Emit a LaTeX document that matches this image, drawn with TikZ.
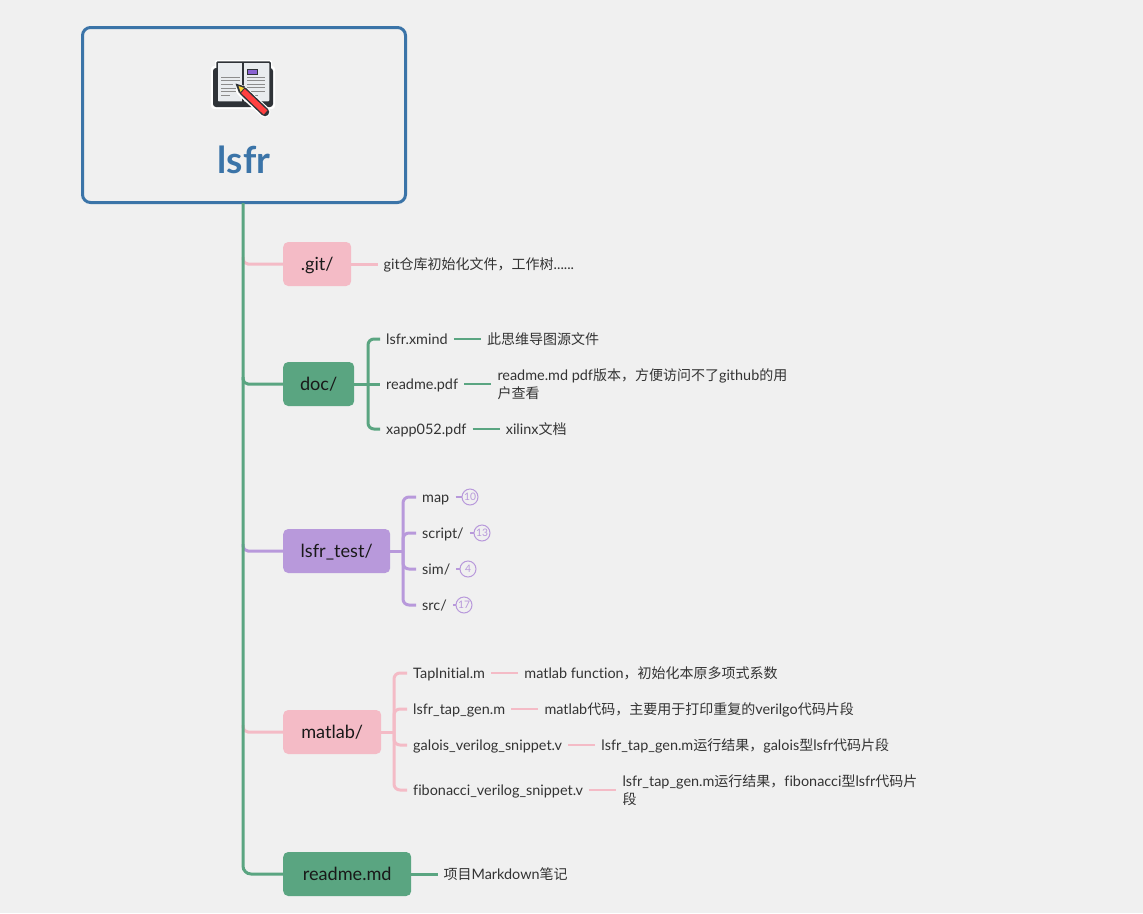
\documentclass[tikz,border=0pt]{standalone}
\usepackage{fontspec}
\setmainfont[Scale=1.03,Ligatures=NoCommon]{Lato}
\newfontfamily\cjk{Noto Sans CJK SC}
\newcommand{\zhcomma}{^^^^ff0c}
\usetikzlibrary{positioning}
\definecolor{bgcol}{HTML}{F0F0F0}
\definecolor{rootblue}{HTML}{3B74A8}
\definecolor{mygreen}{HTML}{5AA581}
\definecolor{mypink}{HTML}{F4BBC6}
\definecolor{mypurple}{HTML}{B899DB}
\definecolor{inkdark}{HTML}{2F3338}
\definecolor{tagcol}{HTML}{8A63D2}
\definecolor{pagecol}{HTML}{E9ECEF}
\tikzset{
  topic/.style={rectangle, rounded corners=5pt, anchor=west, minimum height=44pt, font=\fontsize{17.6}{20}\selectfont, text=black!90, text height=15pt, text depth=3pt},
  leaf/.style={anchor=west, inner xsep=6pt, inner ysep=0pt, font=\fontsize{14}{18}\selectfont, text=black!80, text height=13pt, text depth=3pt},
  descn/.style={leaf, right=27pt of #1},
  descm/.style={anchor=west, inner xsep=6pt, inner ysep=0pt, align=left, font=\fontsize{14}{18}\selectfont, text=black!80, right=27pt of #1},
  trunkline/.style={line width=3pt, mygreen},
  subline/.style={line width=3pt, rounded corners=6pt},
  tipline/.style={line width=2pt},
  countnum/.style={circle, draw=mypurple, text=mypurple, line width=1pt, minimum size=16pt, inner sep=0pt, font=\fontsize{10}{10}\selectfont}
}
\begin{document}
\begin{tikzpicture}[x=1pt,y=-1pt]
\useasboundingbox[fill=bgcol] (0,0) rectangle (1143,913);
% root
\node[draw=rootblue, line width=3pt, rounded corners=8pt, minimum width=323pt, minimum height=175pt] (root) at (244,115) {};
\node[rootblue, font=\fontsize{36}{40}\selectfont\bfseries] (title) at (244,160) {lsfr};
% book icon
\fill[white, rounded corners=3pt] (211,66) rectangle (275,109);
\fill[white, rounded corners=2pt] (215,60) rectangle (272,104);
\fill[inkdark, rounded corners=3pt] (213,68) rectangle (273,107);
\draw[inkdark, fill=pagecol, line width=1.5pt, rounded corners=1pt] (217,62) rectangle (270,102);
\draw[inkdark, line width=1.5pt] (243,62) -- (243,102);
\draw[inkdark, fill=tagcol, line width=1pt] (247.5,69) rectangle (257.5,74);
\foreach \yy/\xend in {77/240,80/240,84/233,88/240,91/238,95/230} \draw[gray!90, line width=.9pt] (221,\yy) -- (\xend,\yy);
\foreach \yy/\xend in {77/265,80/265,84/265,87/265,91/265,95/258} \draw[gray!90, line width=.9pt] (247,\yy) -- (\xend,\yy);
\draw[white, line width=11pt, line cap=round] (241,90) -- (265,112);
\draw[inkdark, line width=8.5pt, line cap=round] (243,91) -- (265,112);
\draw[red!75!white, line width=5.5pt] (243,91) -- (265.5,112.5);
\fill[inkdark] (235.5,83.5) -- (245,86.5) -- (239,93) -- cycle;
\fill[yellow!60!orange!80] (238.5,86) -- (244,88) -- (240.5,92) -- cycle;
% first level
\node[topic, fill=mypink, minimum width=68pt] (git) at (283,264) {.git/};
\node[topic, fill=mygreen, minimum width=71pt] (doc) at (283,384) {doc/};
\node[topic, fill=mypurple, minimum width=107pt] (test) at (283,551) {lsfr\_test/};
\node[topic, fill=mypink, minimum width=98pt] (matlab) at (283,732) {matlab/};
\node[topic, fill=mygreen, minimum width=128pt] (readme) at (283,874) {readme.md};
% trunk branches
\coordinate (top) at (243,203);
\foreach \nd/\col in {git/mypink,doc/mygreen,test/mypurple,matlab/mypink}
  \draw[line width=3pt, \col, rounded corners=5pt] (top |- \nd.west) ++(0,-7) |- (\nd.west);
\draw[trunkline, rounded corners=8pt] (top) |- (readme.west);
% git
\node[descn=git, inner xsep=5pt] (gitd) {git{\cjk 仓库初始化文件\zhcomma 工作树}......};
\draw[tipline, line width=3pt, mypink] (git) -- (gitd);
% doc
\coordinate (dochub) at (368,384);
\node[leaf] (xmind) at (380,339) {lsfr.xmind};
\node[leaf] (rpdf) at (380,384) {readme.pdf};
\node[leaf] (xapp) at (380,429) {xapp052.pdf};
\node[descn=xmind] (xmindd) {\cjk 此思维导图源文件};
\node[descm=rpdf] (rpdfd) {readme.md pdf{\cjk 版本\zhcomma 方便访问不了}github{\cjk 的用}\\{\cjk 户查看}};
\node[descn=xapp] (xappd) {xilinx{\cjk 文档}};
\draw[subline, mygreen] (dochub) |- (xmind.west);
\draw[subline, mygreen] (dochub) |- (xapp.west);
\draw[subline, mygreen] (doc) -- (rpdf.west);
\draw[tipline, mygreen] (xmind) -- (xmindd);
\draw[tipline, mygreen] (rpdf) -- (rpdfd);
\draw[tipline, mygreen] (xapp) -- (xappd);
% lsfr_test
\coordinate (testhub) at (403,551);
\node[leaf] (map) at (416,497) {map};
\node[leaf] (script) at (416,533) {script/};
\node[leaf] (sim) at (416,569) {sim/};
\node[leaf] (src) at (416,605) {src/};
\node[countnum] (n1) at (470,497) {10};
\node[countnum] (n2) at (482,533) {13};
\node[countnum] (n3) at (468,569) {4};
\node[countnum] (n4) at (464,605) {17};
\draw[line width=3pt, mypurple] (test) -- (testhub);
\foreach \kid/\num in {map/n1,script/n2,sim/n3,src/n4} {
  \draw[subline, mypurple] (testhub) |- (\kid.west);
  \draw[tipline, mypurple] (\kid) -- (\num);
}
% matlab
\coordinate (mathub) at (394,732);
\node[leaf] (tap) at (407,673) {TapInitial.m};
\node[leaf] (gen) at (407,709) {lsfr\_tap\_gen.m};
\node[leaf] (gal) at (407,745) {galois\_verilog\_snippet.v};
\node[leaf] (fib) at (407,790) {fibonacci\_verilog\_snippet.v};
\node[descn=tap] (tapd) {matlab function{\cjk \zhcomma 初始化本原多项式系数}};
\node[descn=gen] (gend) {matlab{\cjk 代码\zhcomma 主要用于打印重复的}verilgo{\cjk 代码片段}};
\node[descn=gal] (gald) {lsfr\_tap\_gen.m{\cjk 运行结果\zhcomma}galois{\cjk 型}lsfr{\cjk 代码片段}};
\node[descm=fib] (fibd) {lsfr\_tap\_gen.m{\cjk 运行结果\zhcomma}fibonacci{\cjk 型}lsfr{\cjk 代码片}\\{\cjk 段}};
\draw[line width=3pt, mypink] (matlab) -- (mathub);
\foreach \kid/\dsc in {tap/tapd,gen/gend,gal/gald,fib/fibd} {
  \draw[subline, mypink] (mathub) |- (\kid.west);
  \draw[tipline, mypink] (\kid) -- (\dsc);
}
% readme
\node[descn=readme, inner xsep=5pt] (readmed) {{\cjk 项目}Markdown{\cjk 笔记}};
\draw[line width=3pt, mygreen] (readme) -- (readmed);
\end{tikzpicture}
\end{document}
